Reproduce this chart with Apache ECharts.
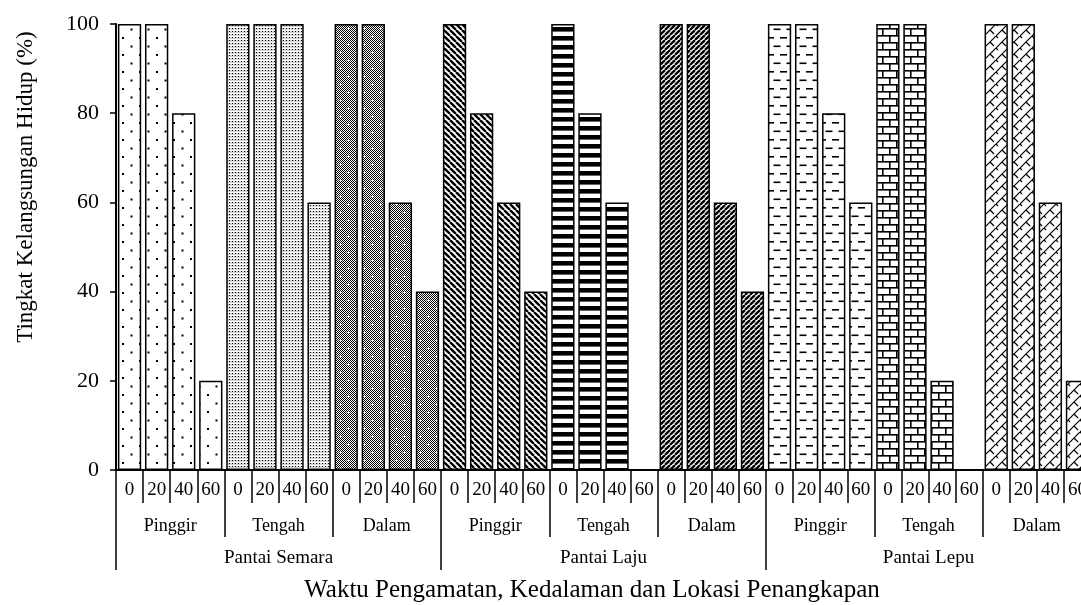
<!DOCTYPE html>
<html>
<head>
<meta charset="utf-8">
<script src="https://cdn.jsdelivr.net/npm/echarts@6/dist/echarts.min.js"></script>
<style>
html,body{margin:0;padding:0;background:#fff;}
#chart{width:1081px;height:605px;}
</style>
</head>
<body>
<div id="chart"></div>
<script>
// ---- data ----
const timeLabels = ['0', '20', '40', '60'];
const depthLabels = ['Pinggir', 'Tengah', 'Dalam'];
const locationLabels = ['Pantai Semara', 'Pantai Laju', 'Pantai Lepu'];

const semaraPinggir = [100, 100, 80, 20];
const semaraTengah  = [100, 100, 100, 60];
const semaraDalam   = [100, 100, 60, 40];
const lajuPinggir   = [100, 80, 60, 40];
const lajuTengah    = [100, 80, 60, 0];
const lajuDalam     = [100, 100, 60, 40];
const lepuPinggir   = [100, 100, 80, 60];
const lepuTengah    = [100, 100, 20, 0];
const lepuDalam     = [100, 100, 60, 20];

const yTitle = 'Tingkat Kelangsungan Hidup (%)';
const xTitle = 'Waktu Pengamatan, Kedalaman dan Lokasi Penangkapan';

// ---- patterns ----
function makePattern(w, h, draw) {
  const c = document.createElement('canvas');
  c.width = w; c.height = h;
  const ctx = c.getContext('2d');
  ctx.fillStyle = '#fff';
  ctx.fillRect(0, 0, w, h);
  ctx.fillStyle = '#000';
  ctx.strokeStyle = '#000';
  draw(ctx, w, h);
  return { image: c, repeat: 'repeat' };
}
function diag(ctx, s, lw, down) {
  ctx.lineWidth = lw;
  ctx.beginPath();
  for (const x0 of [-s, 0, s]) {
    if (down) { ctx.moveTo(x0, 0); ctx.lineTo(x0 + s, s); }
    else { ctx.moveTo(x0, s); ctx.lineTo(x0 + s, 0); }
  }
  ctx.stroke();
}
const patterns = [
  // Semara Pinggir: sparse dots
  makePattern(17, 17, (ctx) => { ctx.fillRect(3, 3, 2, 2); ctx.fillRect(11.5, 11.5, 2, 2); }),
  // Semara Tengah: dense small dots
  makePattern(3, 3, (ctx) => { ctx.fillStyle = '#d4d4d4'; ctx.fillRect(0, 0, 3, 3); ctx.fillStyle = '#fff'; ctx.fillRect(0, 0, 3, 1); ctx.fillStyle = '#000'; ctx.fillRect(1, 1, 1, 1); }),
  // Semara Dalam: checker with white holes
  makePattern(16, 16, (ctx) => {
    for (let y = 0; y < 16; y++) for (let x = 0; x < 16; x++) if ((x + y) % 2 === 0) ctx.fillRect(x, y, 1, 1);
    ctx.fillStyle = '#fff';
    ctx.fillRect(3, 4, 3, 1); ctx.fillRect(4, 3, 1, 3);
    ctx.fillRect(11, 12, 3, 1); ctx.fillRect(12, 11, 1, 3);
  }),
  // Laju Pinggir: wide downward diagonal
  makePattern(6, 6, (ctx, w) => diag(ctx, w, 2.4, true)),
  // Laju Tengah: horizontal stripes
  makePattern(4, 9, (ctx) => { ctx.fillRect(0, 0, 4, 4.6); }),
  // Laju Dalam: dense upward diagonal
  makePattern(5, 5, (ctx, w) => diag(ctx, w, 2.3, false)),
  // Lepu Pinggir: dashed horizontal
  makePattern(13, 17, (ctx) => { ctx.fillRect(0, 3, 7, 1.6); ctx.fillRect(6.5, 11.5, 6.5, 1.6); ctx.fillRect(0, 11.5, 0.5, 1.6); }),
  // Lepu Tengah: brick
  makePattern(14, 14, (ctx) => {
    ctx.fillRect(0, 0, 14, 1.6); ctx.fillRect(0, 7, 14, 1.6);
    ctx.fillRect(0, 0, 1.6, 7); ctx.fillRect(7, 7, 1.6, 7);
  }),
  // Lepu Dalam: zigzag (long upward diagonals with short downward stubs)
  makePattern(12, 12, (ctx) => {
    ctx.lineWidth = 1.2;
    ctx.beginPath();
    ctx.moveTo(0, 12); ctx.lineTo(12, 0);
    ctx.moveTo(-12, 12); ctx.lineTo(0, 0);
    ctx.moveTo(12, 12); ctx.lineTo(24, 0);
    ctx.moveTo(6, 6); ctx.lineTo(10, 10);
    ctx.moveTo(0, 0); ctx.lineTo(2, 2);
    ctx.stroke();
  })
];

const groups = [semaraPinggir, semaraTengah, semaraDalam, lajuPinggir, lajuTengah, lajuDalam, lepuPinggir, lepuTengah, lepuDalam];

const xCats = [];
const barData = [];
groups.forEach((g, gi) => {
  g.forEach((v, ti) => {
    xCats.push(timeLabels[ti]);
    barData.push({
      value: v,
      itemStyle: { color: patterns[gi], borderColor: '#000', borderWidth: 1.5 }
    });
  });
});
const depthCats = [];
locationLabels.forEach(() => depthLabels.forEach(d => depthCats.push(d)));

const FONT = '"Liberation Serif", "Times New Roman", serif';

const chart = echarts.init(document.getElementById('chart'));
chart.setOption({
  animation: false,
  backgroundColor: '#fff',
  grid: { left: 116, right: -10, top: 24, bottom: 135, containLabel: false, outerBoundsMode: 'none' },
  xAxis: [
    {
      type: 'category', data: xCats, position: 'bottom',
      axisLine: { show: true, lineStyle: { color: '#000', width: 2 } },
      axisTick: { show: true, alignWithLabel: false, interval: 0, length: 33, lineStyle: { color: '#000', width: 1.5 } },
      axisLabel: { interval: 0, margin: 11, color: '#000', fontSize: 19, fontFamily: FONT },
      splitLine: { show: false }
    },
    {
      type: 'category', data: depthCats, position: 'bottom',
      axisLine: { show: false },
      axisTick: { show: true, alignWithLabel: false, interval: 0, length: 67, lineStyle: { color: '#000', width: 1.5 } },
      axisLabel: { interval: 0, margin: 47, color: '#000', fontSize: 18, fontFamily: FONT },
      splitLine: { show: false }
    },
    {
      type: 'category', data: locationLabels, position: 'bottom',
      axisLine: { show: false },
      axisTick: { show: true, alignWithLabel: false, interval: 0, length: 100, lineStyle: { color: '#000', width: 1.5 } },
      axisLabel: { interval: 0, margin: 79, color: '#000', fontSize: 19, fontFamily: FONT },
      splitLine: { show: false }
    }
  ],
  yAxis: {
    type: 'value', min: 0, max: 100, interval: 20,
    axisLine: { show: true, lineStyle: { color: '#000', width: 2 } },
    axisTick: { show: true, inside: false, length: 6, lineStyle: { color: '#000', width: 1.5 } },
    axisLabel: { margin: 17, color: '#000', fontSize: 22, fontFamily: FONT },
    splitLine: { show: false }
  },
  graphic: [
    {
      type: 'text', x: 26, y: 187, rotation: Math.PI / 2,
      style: { text: yTitle, font: '23px ' + FONT, fill: '#000', align: 'center', verticalAlign: 'middle' }
    },
    {
      type: 'text', x: 592, y: 590,
      style: { text: xTitle, font: '25px ' + FONT, fill: '#000', align: 'center', verticalAlign: 'middle' }
    }
  ],
  series: [
    {
      type: 'bar', xAxisIndex: 0, yAxisIndex: 0,
      barCategoryGap: '14%',
      data: barData
    }
  ]
});
</script>
</body>
</html>
